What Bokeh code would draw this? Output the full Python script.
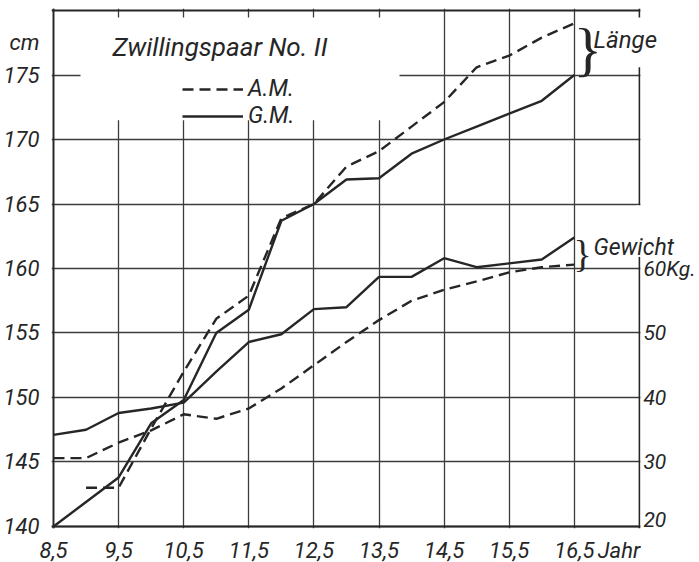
from bokeh.plotting import figure
from bokeh.models import (Range1d, FixedTicker, Label, Legend, LegendItem,
                          BoxAnnotation, Grid)
from bokeh.embed import file_html
from bokeh.resources import INLINE

# ---- data -------------------------------------------------------------
years = [8.5, 9.0, 9.5, 10.0, 10.5, 11.0, 11.5, 12.0, 12.5,
         13.0, 13.5, 14.0, 14.5, 15.0, 15.5, 16.0, 16.5]
# Länge (cm)
laenge_am = [float("nan"), 143.0, 143.0, 147.6, 152.0, 156.1, 157.9, 163.9, 165.0,
             167.9, 169.1, 171.0, 172.9, 175.6, 176.5, 177.9, 179.0]
laenge_gm = [140.0, 141.9, 143.8, 148.0, 149.8, 155.0, 156.8, 163.7, 165.0,
             166.9, 167.0, 168.9, 170.0, 171.0, 172.0, 173.0, 175.0]
# Gewicht (kg)
gewicht_am = [30.6, 30.6, 33.0, 34.9, 37.4, 36.7, 38.3, 41.4, 45.0,
              48.6, 52.0, 55.0, 56.7, 58.0, 59.4, 60.2, 60.6]
gewicht_gm = [34.2, 35.0, 37.6, 38.3, 39.2, 44.0, 48.6, 49.8, 53.7,
              54.0, 58.7, 58.7, 61.6, 60.2, 60.8, 61.4, 64.8]

x_ticks = [8.5, 9.5, 10.5, 11.5, 12.5, 13.5, 14.5, 15.5, 16.5]
x_tick_labels = ["8,5", "9,5", "10,5", "11,5", "12,5", "13,5", "14,5", "15,5", "16,5"]
x_unit_label = "Jahr"
cm_ticks = [140, 145, 150, 155, 160, 165, 170, 175]
cm_tick_labels = ["140", "145", "150", "155", "160", "165", "170", "175"]
cm_unit_label = "cm"
kg_ticks = [20, 30, 40, 50, 60]
kg_tick_labels = ["20", "30", "40", "50", "60Kg."]

title_text = "Zwillingspaar No. II"
legend_labels = ["A.M.", "G.M."]
group_labels = ["Länge", "Gewicht"]

# ---- layout constants (chart grid: 8.5-17.5 Jahr, 140-180 cm = 20-100 kg) ----
X0, X1 = 8.5, 17.5
CM0, CM1 = 140.0, 180.0
PX_X = 65.1    # px per Jahr
PX_Y = 12.89   # px per cm
PAD = 2.0      # px between frame edge and chart border
x_start = X0 - PAD / PX_X
x_end = x_start + 648 / PX_X
y_start = CM0 - PAD / PX_Y
y_end = CM1 + PAD / PX_Y
kg_of = lambda cm: 20 + (cm - 140) * 2
kg_label_nudge = [-7, 0, 0, 0, 0]   # px; lowest label sits just above the base line

FONT = "Roboto"
INK = "#262626"
GRID = "#3c3c3c"
DASH = "11 6"
TICK_SIZE = "22px"

p = figure(frame_width=648, frame_height=520,
           x_range=Range1d(x_start, x_end), y_range=Range1d(y_start, y_end),
           output_backend="svg", toolbar_location=None, title=None,
           min_border_left=51, min_border_right=0,
           min_border_top=8, min_border_bottom=34)
p.extra_y_ranges = {"kg": Range1d(kg_of(y_start), kg_of(y_end))}

p.background_fill_color = "white"
p.border_fill_color = "white"
p.outline_line_color = None

# axes
p.xaxis.ticker = FixedTicker(ticks=x_ticks + [17.187])
xo = dict(zip(x_ticks, x_tick_labels))
xo[17.187] = x_unit_label
p.xaxis.major_label_overrides = xo
p.yaxis.ticker = FixedTicker(ticks=cm_ticks + [177.5])
yo = dict(zip(cm_ticks, cm_tick_labels))
yo[177.5] = cm_unit_label
p.yaxis.major_label_overrides = yo

for ax in [p.xaxis[0], p.yaxis[0]]:
    ax.axis_line_color = None
    ax.major_tick_line_color = None
    ax.minor_tick_line_color = None
    ax.major_label_text_font = FONT
    ax.major_label_text_font_style = "italic"
    ax.major_label_text_font_size = TICK_SIZE
    ax.major_label_text_color = INK
p.xaxis.major_label_standoff = 3
p.yaxis.major_label_standoff = 6

# grid
p.xgrid.ticker = FixedTicker(ticks=x_ticks)
p.ygrid.ticker = FixedTicker(ticks=cm_ticks)
for g in [p.xgrid[0], p.ygrid[0]]:
    g.grid_line_color = GRID
    g.grid_line_width = 1.3
# chart border
p.add_layout(Grid(dimension=0, ticker=FixedTicker(ticks=[X0, X1]),
                  grid_line_color=INK, grid_line_width=1.8))
p.add_layout(Grid(dimension=1, ticker=FixedTicker(ticks=[CM0, CM1]),
                  grid_line_color=INK, grid_line_width=1.8))

def blank(left, right, bottom, top):
    p.add_layout(BoxAnnotation(left=left, right=right, bottom=bottom, top=top,
                               fill_color="white", fill_alpha=1.0, line_color=None,
                               level="underlay"))

blank(X1 + 0.016, 19.0, 130, 190)            # nothing right of the chart border
blank(8.915, 13.815, 171.5, 179.45)          # gap behind title / legend
blank(X1 - 0.05, X1 + 0.05, 175.6, 179.45)   # border gap at "Länge"
blank(X1 - 0.05, X1 + 0.05, 160.9, 164.9)    # border gap at "Gewicht"

# lines
r_lam = p.line(years, laenge_am, line_color=INK, line_width=2.4, line_dash=DASH)
r_lgm = p.line(years, laenge_gm, line_color=INK, line_width=2.4)
p.line(years, gewicht_am, line_color=INK, line_width=2.4, line_dash=DASH, y_range_name="kg")
p.line(years, gewicht_gm, line_color=INK, line_width=2.4, y_range_name="kg")

# right-hand kg scale
p.text(x=[X1] * len(kg_ticks), y=kg_ticks, text=kg_tick_labels, y_range_name="kg",
       x_offset=4, y_offset=kg_label_nudge, text_align="left", text_baseline="middle",
       text_font={"value": FONT}, text_font_style="italic",
       text_font_size="21px", text_color=INK)

legend = Legend(items=[LegendItem(label=legend_labels[0], renderers=[r_lam]),
                       LegendItem(label=legend_labels[1], renderers=[r_lgm])],
                location=(131, 399), glyph_width=61, glyph_height=20,
                label_height=20, spacing=0, padding=0, margin=0,
                border_line_color=None, background_fill_alpha=0,
                label_text_font=FONT, label_text_font_style="italic",
                label_text_font_size="23px", label_text_color=INK,
                label_standoff=5)
p.add_layout(legend)

def lab(text, x, y, size, baseline="alphabetic", font=FONT, style="italic", **kw):
    p.add_layout(Label(x=x, y=y, text=text, text_font=font, text_font_style=style,
                       text_font_size=size, text_color=INK, text_baseline=baseline,
                       level="overlay", **kw))

lab(title_text, 9.406, 177.16, "26px")
lab(group_labels[0], 16.795, 177.71, "24px")
lab(group_labels[1], 16.795, 161.65, "23px")
lab("}", 16.488, 177.0, "60px", baseline="middle", font="Liberation Serif", style="normal")
lab("}", 16.488, 161.1, "38px", baseline="middle", font="Liberation Serif", style="normal")

open("out.html", "w").write(file_html(p, INLINE))
